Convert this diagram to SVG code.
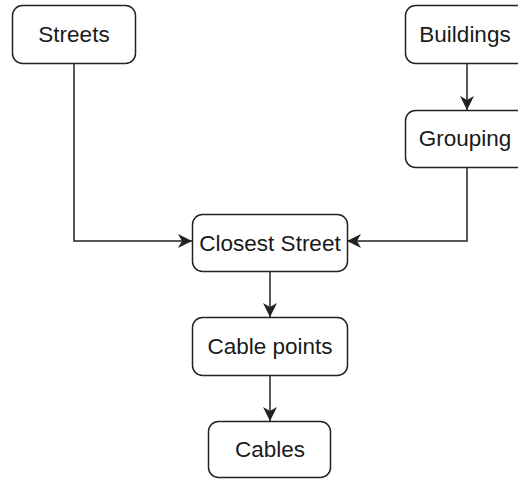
<svg xmlns="http://www.w3.org/2000/svg" width="518" height="479" viewBox="0 0 518 479">
  <defs>
    <marker id="arrow" viewBox="0 0 14 14" refX="14" refY="7" markerWidth="14" markerHeight="14" markerUnits="userSpaceOnUse" orient="auto">
      <path d="M0,0 L14,7 L0,14 L4,7 Z" fill="#222"/>
    </marker>
  </defs>
  <style>
    .box { fill: #fff; stroke: #222; stroke-width: 1.5; }
    .label { font-family: "Liberation Sans", Arial, sans-serif; font-size: 22.5px; fill: #1a1a1a; text-anchor: middle; }
    .edge { fill: none; stroke: #222; stroke-width: 1.5; }
  </style>
  <rect width="518" height="479" fill="#fff"/>

  <g id="connectors">
    <path class="edge" d="M74,64 V241 H192" marker-end="url(#arrow)"/>
    <path class="edge" d="M467,64 V110" marker-end="url(#arrow)"/>
    <path class="edge" d="M467,167 V241 H347" marker-end="url(#arrow)"/>
    <path class="edge" d="M270,272 V317" marker-end="url(#arrow)"/>
    <path class="edge" d="M270,376 V421" marker-end="url(#arrow)"/>
  </g>

  <g id="streets">
    <rect class="box" x="12.5" y="5.5" width="123" height="58" rx="10"/>
    <text class="label" x="74" y="42">Streets</text>
  </g>
  <g id="buildings">
    <rect class="box" x="405.5" y="5.5" width="122" height="58" rx="10"/>
    <text class="label" x="465" y="42">Buildings</text>
  </g>
  <g id="grouping">
    <rect class="box" x="405.5" y="110.5" width="122" height="57" rx="10"/>
    <text class="label" x="465" y="146">Grouping</text>
  </g>
  <g id="closest-street">
    <rect class="box" x="192.5" y="214.5" width="155" height="57" rx="10"/>
    <text class="label" x="270" y="250.5">Closest Street</text>
  </g>
  <g id="cable-points">
    <rect class="box" x="192.5" y="317.5" width="155" height="58" rx="10"/>
    <text class="label" x="270" y="354">Cable points</text>
  </g>
  <g id="cables">
    <rect class="box" x="208.5" y="421.5" width="122" height="56" rx="10"/>
    <text class="label" x="270" y="457">Cables</text>
  </g>
</svg>
